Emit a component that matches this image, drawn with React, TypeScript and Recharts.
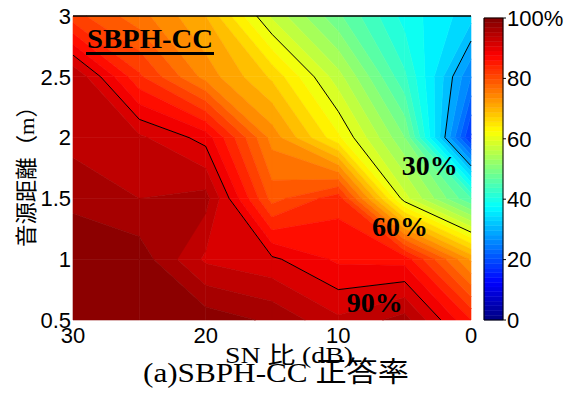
import React from 'react'
import { ScatterChart, Scatter, XAxis, YAxis, ReferenceArea, ReferenceDot, ReferenceLine } from 'recharts'

// grid: SN ratio (dB) x source distance (m), value = accuracy (%)
const snRatios = [30, 25, 20, 15, 10, 5, 0]
const distances = [0.5, 1, 1.5, 2, 2.5, 3]
const rateAt05 = [100, 100, 99, 97, 93, 96, 85]
const rateAt10 = [99, 99, 92, 90.5, 87, 86.5, 72]
const rateAt15 = [97, 95, 96, 79, 84, 58.5, 45]
const rateAt20 = [94, 93, 89, 74, 63, 50, 17]
const rateAt25 = [95, 83, 74, 67, 56, 43, 25]
const rateAt30 = [81, 76, 70, 57, 48, 39, 33.5]
const rateRows = [rateAt05, rateAt10, rateAt15, rateAt20, rateAt25, rateAt30]

const contourLevels = [30, 60, 90]
const contourLabels = [
  { sn: 3.1, dist: 1.77, text: '30%' },
  { sn: 5.35, dist: 1.27, text: '60%' },
  { sn: 7.25, dist: 0.64, text: '90%' },
]
const xTicks = [30, 20, 10, 0]
const yTicks = [0.5, 1, 1.5, 2, 2.5, 3]
const colorTicks = [0, 20, 40, 60, 80, 100]

const SANS = '"Liberation Sans", Arial, sans-serif'
const SERIF = '"Liberation Serif", "Noto Sans CJK JP", serif'
const BAND = 2.5

const clamp = (v: number) => Math.max(0, Math.min(1, v))
function jet(v: number) {
  const t = v / 100
  const r = clamp(1.5 - Math.abs(4 * t - 3))
  const g = clamp(1.5 - Math.abs(4 * t - 2))
  const b = clamp(1.5 - Math.abs(4 * t - 1))
  return `rgb(${Math.round(r * 255)},${Math.round(g * 255)},${Math.round(b * 255)})`
}

const nodes = distances.flatMap((d, i) => snRatios.map((sn, j) => ({ sn, dist: d, rate: rateRows[i][j] })))

interface Cell { key: string; snL: number; snR: number; dLo: number; dHi: number; vals: number[] }
const cells: Cell[] = []
for (let i = 0; i < distances.length - 1; i++) {
  for (let j = 0; j < snRatios.length - 1; j++) {
    cells.push({
      key: `${i}-${j}`,
      snL: snRatios[j], snR: snRatios[j + 1],
      dLo: distances[i], dHi: distances[i + 1],
      // tl, tr, br, bl
      vals: [rateRows[i + 1][j], rateRows[i + 1][j + 1], rateRows[i][j + 1], rateRows[i][j]],
    })
  }
}

function corners(x: number, y: number, w: number, h: number) {
  return [[x, y], [x + w, y], [x + w, y + h], [x, y + h]]
}

function bandPoly(cs: number[][], vals: number[], lo: number, hi: number) {
  const pts: number[][] = []
  for (let k = 0; k < 4; k++) {
    const [ax, ay] = cs[k]
    const [bx, by] = cs[(k + 1) % 4]
    const va = vals[k], vb = vals[(k + 1) % 4]
    if (va >= lo && va <= hi) pts.push([ax, ay])
    const ts: number[] = []
    for (const L of [lo, hi]) {
      if ((va < L && vb > L) || (va > L && vb < L)) ts.push((L - va) / (vb - va))
    }
    ts.sort((p, q) => p - q).forEach((t) => pts.push([ax + (bx - ax) * t, ay + (by - ay) * t]))
  }
  return pts
}

function CellFill(props: any) {
  const { x, y, width, height, vals } = props
  const cs = corners(x, y, width, height)
  const out: React.ReactNode[] = []
  for (let lo = 0; lo < 100; lo += BAND) {
    const pts = bandPoly(cs, vals, lo, lo + BAND)
    if (pts.length < 3) continue
    const c = jet(lo + BAND / 2)
    out.push(<polygon key={lo} points={pts.map((p) => p.join(',')).join(' ')} fill={c} stroke={c} strokeWidth={0.6} strokeLinejoin="round" />)
  }
  return <g>{out}</g>
}

function CellLines(props: any) {
  const { x, y, width, height, vals } = props
  const cs = corners(x, y, width, height)
  const out: React.ReactNode[] = []
  contourLevels.forEach((L) => {
    const pts: number[][] = []
    for (let k = 0; k < 4; k++) {
      const [ax, ay] = cs[k]
      const [bx, by] = cs[(k + 1) % 4]
      const va = vals[k], vb = vals[(k + 1) % 4]
      if ((va < L && vb >= L) || (va >= L && vb < L)) {
        const t = (L - va) / (vb - va)
        pts.push([ax + (bx - ax) * t, ay + (by - ay) * t])
      }
    }
    for (let s = 0; s + 1 < pts.length; s += 2) {
      out.push(<line key={`${L}-${s}`} x1={pts[s][0]} y1={pts[s][1]} x2={pts[s + 1][0]} y2={pts[s + 1][1]} stroke="#000" strokeWidth={1} />)
    }
  })
  return <g>{out}</g>
}

const colorSteps = Array.from({ length: 64 }, (_, k) => ({ lo: (k * 100) / 64, hi: ((k + 1) * 100) / 64 }))

export default function App() {
  return (
    <div style={{ position: 'absolute', left: 0, top: 0, width: 571, height: 396, background: '#fff' }}>
      <div style={{ position: 'absolute', left: 0, top: 0 }}>
        <ScatterChart width={571} height={396} margin={{ top: 16, right: 100, bottom: 46, left: 23 }}>
          <XAxis type="number" dataKey="sn" domain={[0, 30]} reversed ticks={xTicks} interval={0}
            allowDataOverflow axisLine={false} tickLine={false} tickSize={0} tickMargin={7} height={30}
            tick={{ fontSize: 22, fill: '#000', fontFamily: SANS }} />
          <YAxis type="number" dataKey="dist" domain={[0.5, 3]} ticks={yTicks} interval={0}
            allowDataOverflow axisLine={false} tickLine={false} tickSize={0} tickMargin={2} width={50}
            tick={{ fontSize: 22, fill: '#000', fontFamily: SANS }} />
          {cells.map((c) => (
            <ReferenceArea key={`f${c.key}`} x1={c.snL} x2={c.snR} y1={c.dLo} y2={c.dHi} ifOverflow="visible"
              shape={(p: any) => <CellFill {...p} vals={c.vals} />} />
          ))}
          {cells.map((c) => (
            <ReferenceArea key={`l${c.key}`} x1={c.snL} x2={c.snR} y1={c.dLo} y2={c.dHi} ifOverflow="visible"
              shape={(p: any) => <CellLines {...p} vals={c.vals} />} />
          ))}
          <ReferenceLine y={3} stroke="#000" strokeWidth={1.5} ifOverflow="visible" />
          {contourLabels.map((l) => (
            <ReferenceDot key={l.text} x={l.sn} y={l.dist} r={0} ifOverflow="visible"
              shape={(p: any) => (
                <text x={p.cx} y={p.cy} textAnchor="middle" dominantBaseline="central" fontFamily={SERIF}
                  fontWeight="bold" fontSize={28} fill="#000">{l.text}</text>
              )} />
          ))}
          <Scatter data={nodes} dataKey="rate" isAnimationActive={false} shape={() => <g />} />
        </ScatterChart>
      </div>
      <div style={{ position: 'absolute', left: 440, top: 0 }}>
        <ScatterChart width={131} height={396} margin={{ top: 18, right: 0, bottom: 76, left: 44 }}>
          <XAxis type="number" dataKey="x" domain={[0, 1]} hide />
          <YAxis type="number" dataKey="v" orientation="right" domain={[0, 100]} ticks={colorTicks} interval={0}
            tickFormatter={(v: number) => (v === 100 ? '100%' : String(v))} width={68}
            axisLine={false} tickSize={3} tickMargin={1} stroke="#000"
            tick={{ fontSize: 22, fill: '#000', fontFamily: SANS }} />
          {colorSteps.map((s) => (
            <ReferenceArea key={s.lo} x1={0} x2={1} y1={s.lo} y2={s.hi} fill={jet((s.lo + s.hi) / 2)}
              fillOpacity={1} stroke={jet((s.lo + s.hi) / 2)} strokeWidth={0.5} />
          ))}
          <ReferenceArea x1={0} x2={1} y1={0} y2={100} fill="none" stroke="#000" strokeWidth={1} />
          <Scatter data={colorTicks.map((v) => ({ x: 0.5, v }))} dataKey="v" isAnimationActive={false} shape={() => <g />} />
        </ScatterChart>
      </div>
      <svg width={571} height={396} style={{ position: 'absolute', left: 0, top: 0, pointerEvents: 'none' }}>
        <text x={87} y={48} fontFamily={SERIF} fontWeight="bold" fontSize={28} textLength={126}
          lengthAdjust="spacingAndGlyphs" fill="#000">SBPH-CC</text>
        <line x1={86} x2={214} y1={53.5} y2={53.5} stroke="#000" strokeWidth={3} />
        <text x={225} y={363} fontFamily={SERIF} fontSize={23} textLength={128}
          lengthAdjust="spacingAndGlyphs" fill="#000">SN 比 (dB)</text>
        <text x={143} y={382} fontFamily={SERIF} fontSize={28} textLength={266}
          lengthAdjust="spacingAndGlyphs" fill="#000">(a)SBPH-CC 正答率</text>
        <text transform="translate(26,171) rotate(-90)" textAnchor="middle" dominantBaseline="central"
          fontFamily={SERIF} fontSize={22} textLength={152} lengthAdjust="spacingAndGlyphs" fill="#000">音源距離（m）</text>
      </svg>
    </div>
  )
}
